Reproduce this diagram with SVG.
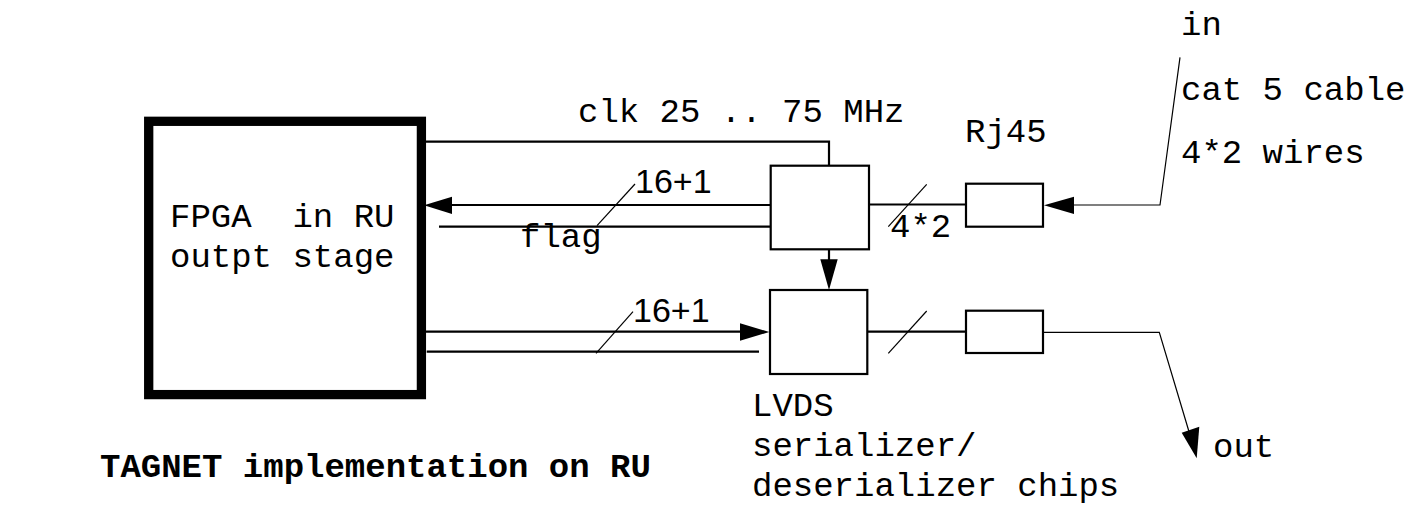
<svg xmlns="http://www.w3.org/2000/svg" width="1406" height="506" viewBox="0 0 1406 506">
<style>
.mono{font-family:"Liberation Mono","Courier New",monospace;font-size:34px;fill:#000;white-space:pre}
.sans{font-family:"Liberation Sans",Arial,sans-serif;font-size:34px;fill:#000}
.bold{font-weight:bold}
.box{fill:#fff;stroke:#000;stroke-width:2.2}
.w{fill:none;stroke:#000;stroke-width:2.2}
.t{fill:none;stroke:#000;stroke-width:1.2}
.ah{fill:#000;stroke:none}
</style>
<rect x="0" y="0" width="1406" height="506" fill="#fff"/>
<g id="fpga">
<rect x="148.7" y="121.3" width="272.7" height="273.3" fill="#fff" stroke="#000" stroke-width="9.3"/>
<text class="mono" x="170" y="227" xml:space="preserve">FPGA  in RU</text>
<text class="mono" x="170" y="267">outpt stage</text>
</g>
<g id="deser">
<rect class="box" x="770.7" y="165.7" width="98.3" height="83.6"/>
</g>
<g id="ser">
<rect class="box" x="770" y="290" width="97.3" height="84"/>
</g>
<g id="rj45-in">
<rect class="box" x="966" y="183.7" width="77" height="43"/>
<text class="mono" x="965" y="142">Rj45</text>
</g>
<g id="rj45-out">
<rect class="box" x="966" y="310.7" width="77" height="42.3"/>
</g>
<g id="connectors">
<polyline class="w" points="426,141.7 829,141.7 829,165.7"/>
<line class="w" x1="452" y1="205" x2="770.7" y2="205"/>
<polygon class="ah" points="424,205.3 452,196.7 452,214"/>
<line class="w" x1="439" y1="226.7" x2="770.7" y2="226.7"/>
<line class="t" x1="635" y1="184" x2="597" y2="225.7"/>
<line class="w" x1="869" y1="204.5" x2="966" y2="204.5"/>
<line class="t" x1="926.7" y1="184.3" x2="888.3" y2="226.7"/>
<polyline class="t" points="1180,57.3 1160,205 1074,205"/>
<polygon class="ah" points="1044,205.3 1074,196.7 1074,214"/>
<line class="w" x1="829" y1="249.3" x2="829" y2="260"/>
<polygon class="ah" points="829,290 820.3,259.3 837.7,259.3"/>
<line class="w" x1="426" y1="331.7" x2="741" y2="331.7"/>
<polygon class="ah" points="769.3,332 740,323.3 740,340.7"/>
<line class="w" x1="426.7" y1="351.7" x2="759" y2="351.7"/>
<line class="t" x1="633" y1="311.7" x2="596" y2="353.3"/>
<line class="w" x1="867.3" y1="331.7" x2="966" y2="331.7"/>
<line class="t" x1="926.7" y1="311" x2="888.3" y2="353.3"/>
<polyline class="t" points="1043,332.3 1159.3,332.3 1190,435"/>
<polygon class="ah" points="1196.7,458.3 1181.7,432.7 1199.3,426.7"/>
</g>
<g id="labels">
<text class="mono" x="578" y="121.7">clk 25 .. 75 MHz</text>
<text class="sans" x="635" y="193">16+1</text>
<text class="mono" x="520" y="247">flag</text>
<text class="mono" x="890" y="237">4*2</text>
<text class="mono" x="1181" y="35">in</text>
<text class="mono" x="1181" y="100">cat 5 cable</text>
<text class="mono" x="1181" y="163">4*2 wires</text>
<text class="sans" x="633" y="322">16+1</text>
<text class="mono" x="752" y="416">LVDS</text>
<text class="mono" x="752" y="456">serializer/</text>
<text class="mono" x="752" y="496">deserializer chips</text>
<text class="mono" x="1213" y="457">out</text>
<text class="mono bold" x="100" y="477">TAGNET implementation on RU</text>
</g>
</svg>
